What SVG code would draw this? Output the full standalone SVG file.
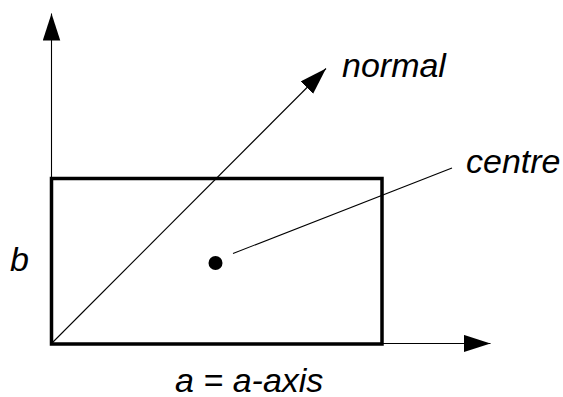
<svg xmlns="http://www.w3.org/2000/svg" width="563" height="397" viewBox="0 0 563 397">
  <style>
    .lbl { font-family: "Liberation Sans", Arial, sans-serif; font-style: italic; font-size: 34px; fill: #000; }
    .thin { stroke: #000; stroke-width: 1.1; fill: none; }
  </style>
  <defs>
    <marker id="arrow" markerUnits="userSpaceOnUse" markerWidth="28" markerHeight="18" refX="27" refY="8.75" orient="auto">
      <path d="M0,0 L27,8.75 L0,17.5 Z" fill="#000"/>
    </marker>
  </defs>
  <rect x="0" y="0" width="563" height="397" fill="#fff"/>
  <g id="connectors">
    <line class="thin" x1="51.5" y1="178.5" x2="51.5" y2="13.5" marker-end="url(#arrow)"/>
    <line class="thin" x1="382" y1="343.5" x2="490.5" y2="343.5" marker-end="url(#arrow)"/>
    <line class="thin" x1="51.5" y1="343.5" x2="326" y2="68.5" marker-end="url(#arrow)"/>
    <line class="thin" x1="233" y1="253.5" x2="452" y2="168"/>
  </g>
  <g id="panel">
    <rect x="51.5" y="178.5" width="330.5" height="165.5" fill="none" stroke="#000" stroke-width="3.5"/>
  </g>
  <g id="centre-point">
    <circle cx="215.5" cy="263" r="7" fill="#000"/>
  </g>
  <g id="label-normal"><text class="lbl" x="342" y="77">normal</text></g>
  <g id="label-centre"><text class="lbl" x="466" y="173">centre</text></g>
  <g id="label-b"><text class="lbl" x="10" y="271">b</text></g>
  <g id="label-a"><text class="lbl" x="175" y="391.5">a = a-axis</text></g>
</svg>
